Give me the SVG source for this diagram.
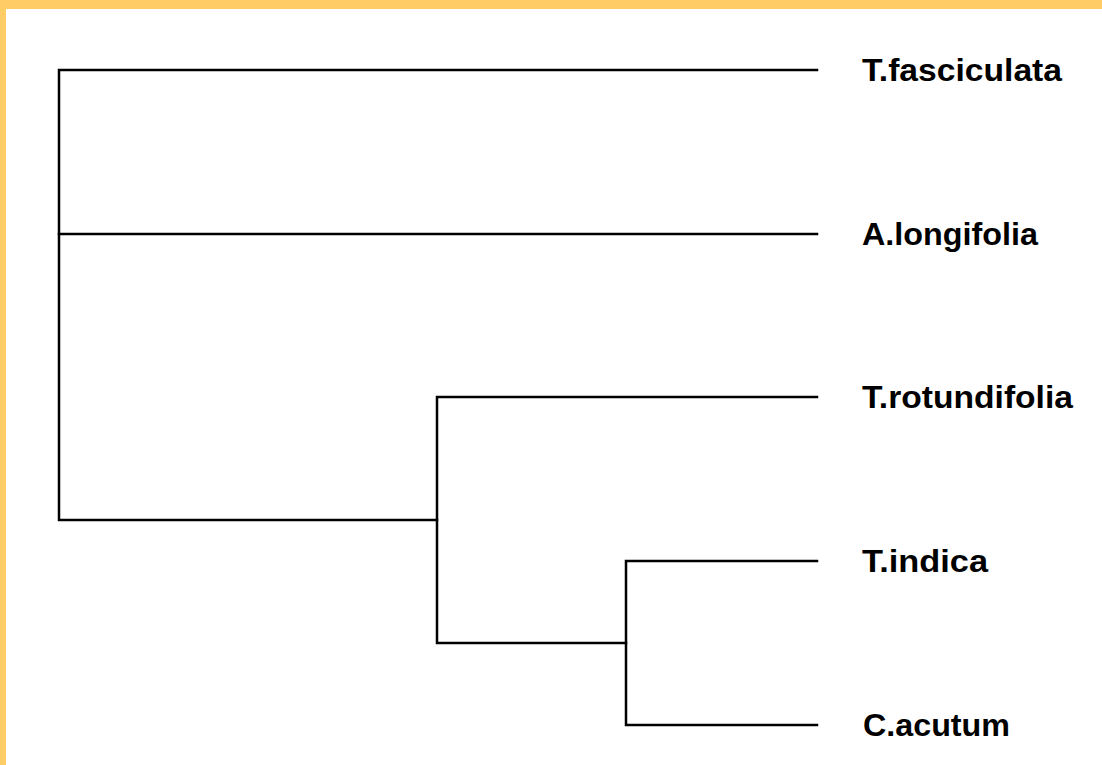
<svg xmlns="http://www.w3.org/2000/svg" width="1102" height="765" viewBox="0 0 1102 765">
<style>
.br{fill:none;stroke:#000;stroke-width:2.5;stroke-linejoin:miter;stroke-linecap:square}
.lbl{font-family:"Liberation Sans",Arial,sans-serif;font-weight:bold;font-size:31px;fill:#000}
</style>
<rect x="0" y="0" width="1102" height="765" fill="#fff"/>
<rect x="0" y="0" width="1102" height="9" fill="#FFCC66"/>
<rect x="0" y="0" width="6" height="765" fill="#FFCC66"/>
<g id="connectors">
<path class="br" d="M817,70 H59 V520 H437"/>
<path class="br" d="M59,234 H817"/>
<path class="br" d="M817,397 H437 V643 H626"/>
<path class="br" d="M817,561 H626 V725 H817"/>
</g>
<g id="n-fasciculata"><text class="lbl" x="862" y="81" textLength="200" lengthAdjust="spacingAndGlyphs">T.fasciculata</text></g>
<g id="n-longifolia"><text class="lbl" x="862" y="245" textLength="176" lengthAdjust="spacingAndGlyphs">A.longifolia</text></g>
<g id="n-rotundifolia"><text class="lbl" x="862" y="408" textLength="211" lengthAdjust="spacingAndGlyphs">T.rotundifolia</text></g>
<g id="n-indica"><text class="lbl" x="862" y="572" textLength="126" lengthAdjust="spacingAndGlyphs">T.indica</text></g>
<g id="n-acutum"><text class="lbl" x="863" y="736" textLength="147" lengthAdjust="spacingAndGlyphs">C.acutum</text></g>
</svg>
